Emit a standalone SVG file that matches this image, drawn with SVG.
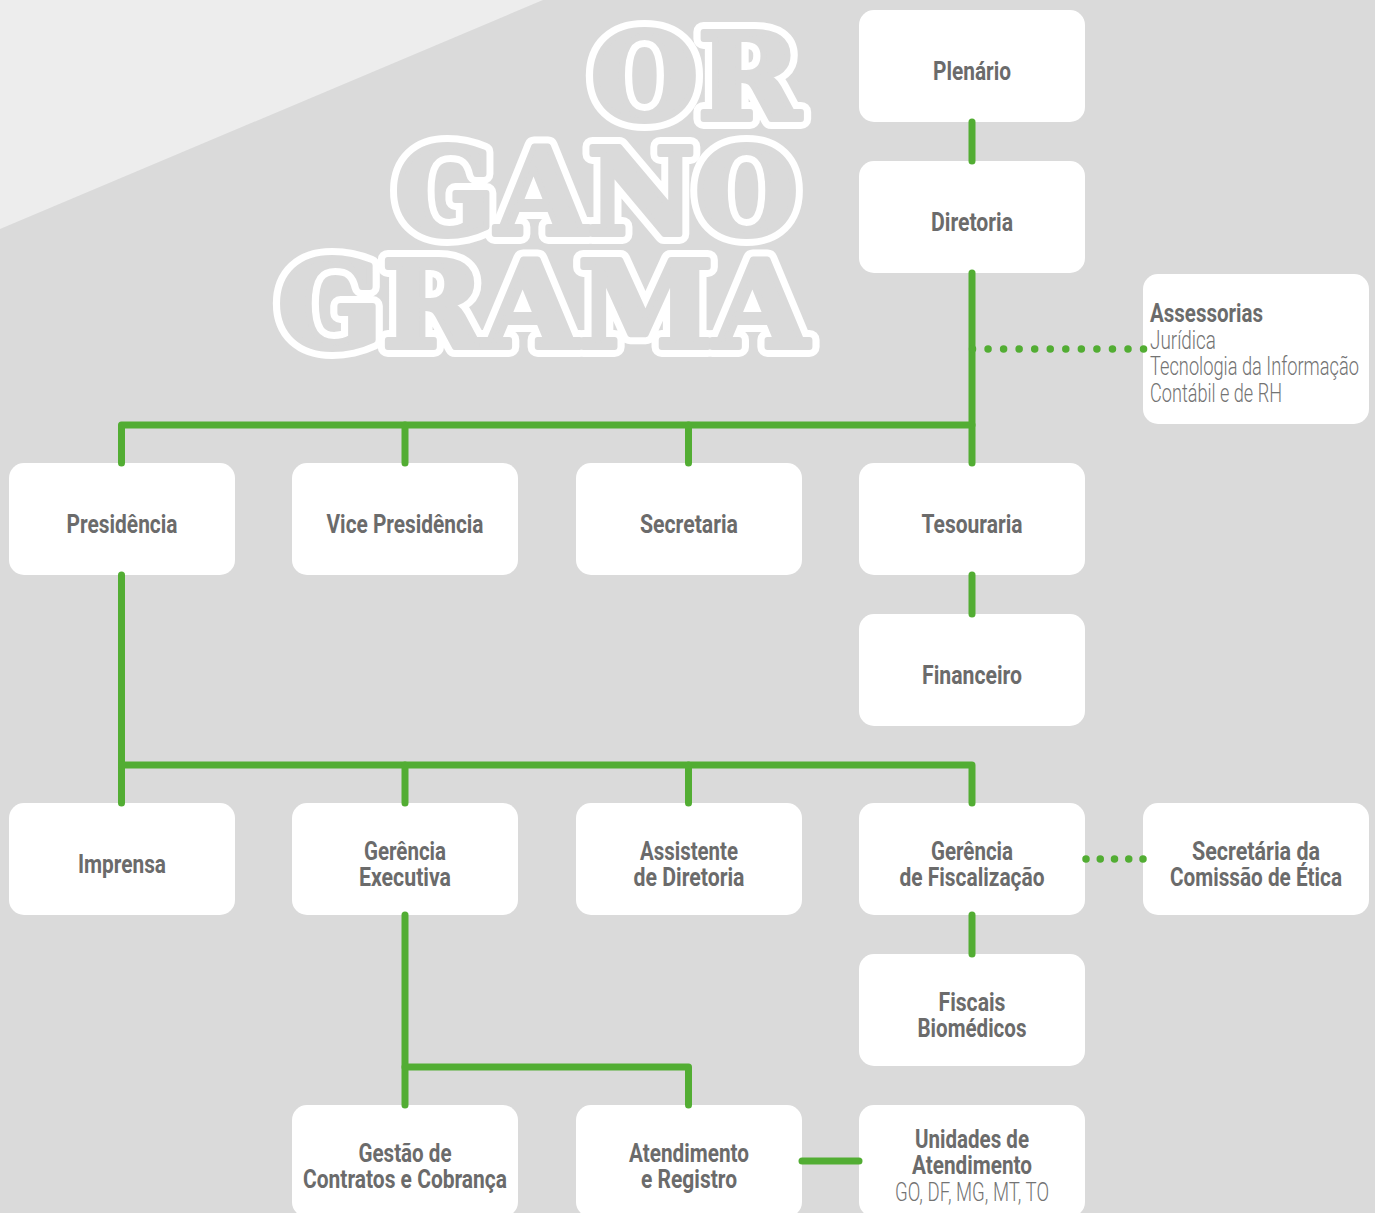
<svg xmlns="http://www.w3.org/2000/svg" width="1375" height="1213" viewBox="0 0 1375 1213">
<style>
.box{fill:#ffffff}
.t{font-family:Roboto,"Liberation Sans",sans-serif;font-weight:700;font-size:25px;fill:#6b6b6b;text-anchor:middle}
.l{font-family:Roboto,"Liberation Sans",sans-serif;font-weight:300;font-size:25px;fill:#737373}
.a{font-family:Roboto,"Liberation Sans",sans-serif;font-weight:700;font-size:25px;fill:#6b6b6b}
.c{fill:none;stroke:#52ad33;stroke-width:7;stroke-linecap:round;stroke-linejoin:round}
.d{fill:none;stroke:#52ad33;stroke-width:7.5;stroke-linecap:round}
.title{font-family:"DejaVu Serif",serif;font-weight:700;font-size:119px;stroke-linejoin:round}
.ow{fill:#ffffff;stroke:#ffffff;stroke-width:20}
.og{fill:#dadada;stroke:#dadada;stroke-width:6}
</style>
<rect x="0" y="0" width="1375" height="1213" fill="#dadada"/>
<polygon points="0,0 543,0 0,229" fill="#ededed"/>
<g id="title">
<text class="title ow" x="591" y="119" textLength="209" lengthAdjust="spacingAndGlyphs">OR</text>
<text class="title og" x="591" y="119" textLength="209" lengthAdjust="spacingAndGlyphs">OR</text>
<text class="title ow" x="395" y="234" textLength="403" lengthAdjust="spacingAndGlyphs">GANO</text>
<text class="title og" x="395" y="234" textLength="403" lengthAdjust="spacingAndGlyphs">GANO</text>
<text class="title ow" x="278" y="347" textLength="530" lengthAdjust="spacingAndGlyphs">GRAMA</text>
<text class="title og" x="278" y="347" textLength="530" lengthAdjust="spacingAndGlyphs">GRAMA</text>
</g>
<g id="node-plenario"><rect class="box" x="859" y="10" width="226" height="112" rx="15"/><text class="t" x="972" y="79.5" textLength="78" lengthAdjust="spacingAndGlyphs">Plenário</text></g>
<g id="node-diretoria"><rect class="box" x="859" y="161" width="226" height="112" rx="15"/><text class="t" x="972" y="230.5" textLength="82" lengthAdjust="spacingAndGlyphs">Diretoria</text></g>
<g id="node-assessorias"><rect class="box" x="1143" y="274" width="226" height="150" rx="15"/>
<text class="a" x="1150" y="322" textLength="113" lengthAdjust="spacingAndGlyphs">Assessorias</text>
<text class="l" x="1150" y="348.5" textLength="66" lengthAdjust="spacingAndGlyphs">Jurídica</text>
<text class="l" x="1150" y="375" textLength="209" lengthAdjust="spacingAndGlyphs">Tecnologia da Informação</text>
<text class="l" x="1150" y="401.5" textLength="132" lengthAdjust="spacingAndGlyphs">Contábil e de RH</text></g>
<g id="node-presidencia"><rect class="box" x="9" y="463" width="226" height="112" rx="15"/><text class="t" x="122" y="532.5" textLength="111" lengthAdjust="spacingAndGlyphs">Presidência</text></g>
<g id="node-vice"><rect class="box" x="292" y="463" width="226" height="112" rx="15"/><text class="t" x="405" y="532.5" textLength="157" lengthAdjust="spacingAndGlyphs">Vice Presidência</text></g>
<g id="node-secretaria"><rect class="box" x="576" y="463" width="226" height="112" rx="15"/><text class="t" x="689" y="532.5" textLength="98" lengthAdjust="spacingAndGlyphs">Secretaria</text></g>
<g id="node-tesouraria"><rect class="box" x="859" y="463" width="226" height="112" rx="15"/><text class="t" x="972" y="532.5" textLength="101" lengthAdjust="spacingAndGlyphs">Tesouraria</text></g>
<g id="node-financeiro"><rect class="box" x="859" y="614" width="226" height="112" rx="15"/><text class="t" x="972" y="683.5" textLength="100" lengthAdjust="spacingAndGlyphs">Financeiro</text></g>
<g id="node-imprensa"><rect class="box" x="9" y="803" width="226" height="112" rx="15"/><text class="t" x="122" y="872.5" textLength="88" lengthAdjust="spacingAndGlyphs">Imprensa</text></g>
<g id="node-gerencia-executiva"><rect class="box" x="292" y="803" width="226" height="112" rx="15"/>
<text class="t" x="405" y="859.5" textLength="82" lengthAdjust="spacingAndGlyphs">Gerência</text>
<text class="t" x="405" y="886" textLength="92" lengthAdjust="spacingAndGlyphs">Executiva</text></g>
<g id="node-assistente"><rect class="box" x="576" y="803" width="226" height="112" rx="15"/>
<text class="t" x="689" y="859.5" textLength="98" lengthAdjust="spacingAndGlyphs">Assistente</text>
<text class="t" x="689" y="886" textLength="111" lengthAdjust="spacingAndGlyphs">de Diretoria</text></g>
<g id="node-gerencia-fiscalizacao"><rect class="box" x="859" y="803" width="226" height="112" rx="15"/>
<text class="t" x="972" y="859.5" textLength="82" lengthAdjust="spacingAndGlyphs">Gerência</text>
<text class="t" x="972" y="886" textLength="145" lengthAdjust="spacingAndGlyphs">de Fiscalização</text></g>
<g id="node-etica"><rect class="box" x="1143" y="803" width="226" height="112" rx="15"/>
<text class="t" x="1256" y="859.5" textLength="128" lengthAdjust="spacingAndGlyphs">Secretária da</text>
<text class="t" x="1256" y="886" textLength="172" lengthAdjust="spacingAndGlyphs">Comissão de Ética</text></g>
<g id="node-fiscais"><rect class="box" x="859" y="954" width="226" height="112" rx="15"/>
<text class="t" x="972" y="1010.5" textLength="67" lengthAdjust="spacingAndGlyphs">Fiscais</text>
<text class="t" x="972" y="1037" textLength="109" lengthAdjust="spacingAndGlyphs">Biomédicos</text></g>
<g id="node-gestao"><rect class="box" x="292" y="1105" width="226" height="112" rx="15"/>
<text class="t" x="405" y="1161.5" textLength="93" lengthAdjust="spacingAndGlyphs">Gestão de</text>
<text class="t" x="405" y="1188" textLength="204" lengthAdjust="spacingAndGlyphs">Contratos e Cobrança</text></g>
<g id="node-atendimento"><rect class="box" x="576" y="1105" width="226" height="112" rx="15"/>
<text class="t" x="689" y="1161.5" textLength="120" lengthAdjust="spacingAndGlyphs">Atendimento</text>
<text class="t" x="689" y="1188" textLength="96" lengthAdjust="spacingAndGlyphs">e Registro</text></g>
<g id="node-unidades"><rect class="box" x="859" y="1105" width="226" height="112" rx="15"/>
<text class="t" x="972" y="1147.5" textLength="114" lengthAdjust="spacingAndGlyphs">Unidades de</text>
<text class="t" x="972" y="1174" textLength="120" lengthAdjust="spacingAndGlyphs">Atendimento</text>
<text class="l" x="972" y="1200.5" text-anchor="middle" textLength="154" lengthAdjust="spacingAndGlyphs">GO, DF, MG, MT, TO</text></g>
<g id="connectors">
<path class="c" d="M972 122V161"/>
<path class="c" d="M972 273V463"/>
<path class="c" d="M121.5 463V425H972"/>
<path class="c" d="M405 425V463M688.5 425V463"/>
<path class="c" d="M972 575V614"/>
<path class="c" d="M121.5 575V803"/>
<path class="c" d="M121.5 765H972V803"/>
<path class="c" d="M405 765V803M688.5 765V803"/>
<path class="c" d="M972 915V954"/>
<path class="c" d="M405 915V1105"/>
<path class="c" d="M405 1067H688.5V1105"/>
<path class="c" d="M802 1161H859"/>
<path class="d" d="M972.5 349H1144.5" stroke-dasharray="0 15.55"/>
<path class="d" d="M1086 859H1144" stroke-dasharray="0 14.25"/>
</g>
</svg>
